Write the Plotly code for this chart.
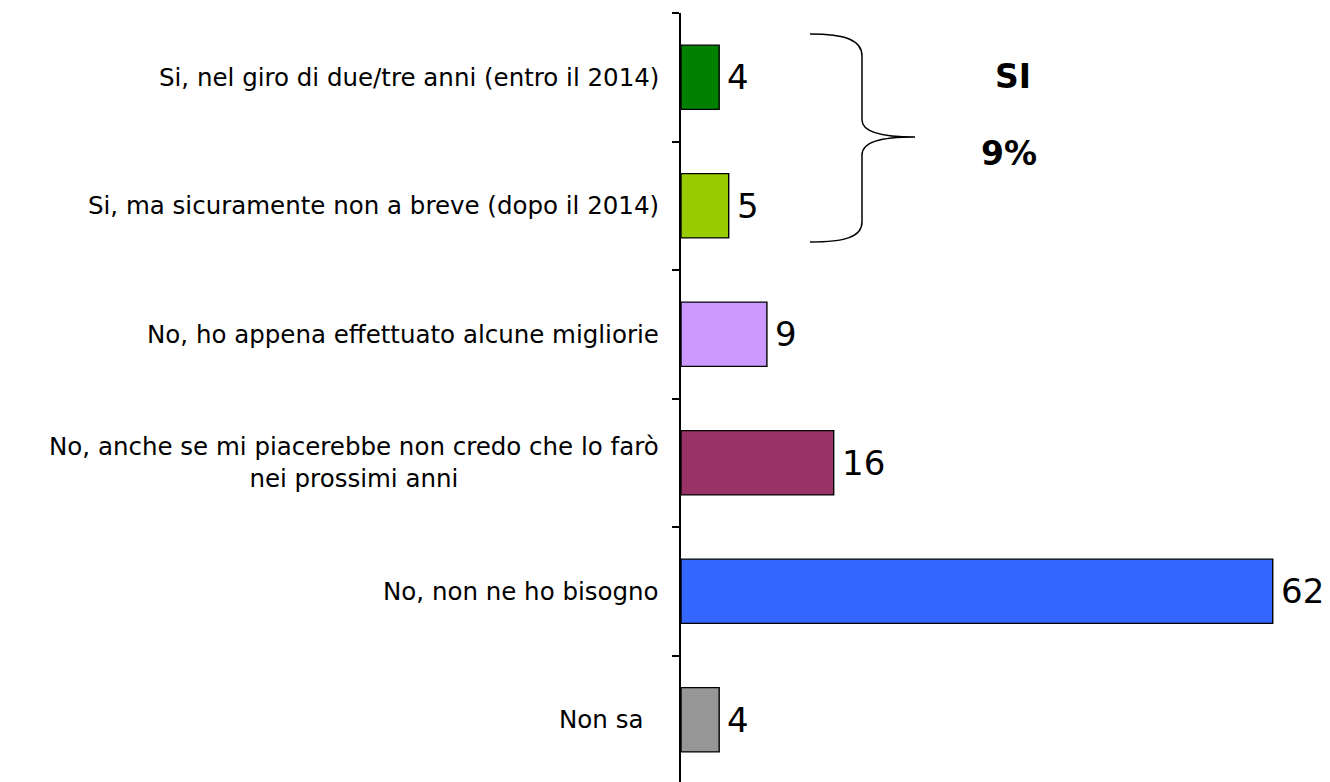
import plotly.graph_objects as go

# %% data
categories = [
    "Si, nel giro di due/tre anni (entro il 2014)",
    "Si, ma sicuramente non a breve (dopo il 2014)",
    "No, ho appena effettuato alcune migliorie",
    "No, anche se mi piacerebbe non credo che lo farò<br>nei prossimi anni",
    "No, non ne ho bisogno",
    "Non sa\u00a0\u00a0",
]
values = [4, 5, 9, 16, 62, 4]
bar_colors = ["#008000", "#99CC00", "#CC99FF", "#993366", "#3366FF", "#969696"]
group_label = "SI"
group_value = "9%"

# %% layout helpers
# page has an 8px body margin, so the figure is shifted by OFF
OFF = 8
W, H = 1330 - OFF, 782
PL, PT, PB, PR = 681, 13, 784, 1330   # plot area in page pixels


def px(x):
    return (x - PL) / (PR - PL)


def py(y):
    return (PB - y) / (PB - PT)


FONT = "DejaVu Sans, Verdana, sans-serif"

fig = go.Figure()
fig.add_trace(go.Bar(
    x=values, y=categories, orientation="h",
    marker=dict(color=bar_colors, line=dict(color="black", width=1.4)),
    hoverinfo="x+y",
))

# value labels
for c, v in zip(categories, values):
    fig.add_annotation(x=v, y=c, text=str(v), showarrow=False,
                       xanchor="left", yanchor="middle", xshift=6,
                       font=dict(family=FONT, size=34, color="black"))

# category labels (centred multi-line, right anchored)
for c in categories:
    fig.add_annotation(x=0, xref="paper", y=c, text=c, showarrow=False,
                       xanchor="right", yanchor="middle", xshift=-20, align="center",
                       font=dict(family=FONT, size=24.5, color="black"))

# brace for the "SI" group
brace = (f"M {px(810)} {py(34)} "
         f"C {px(845)} {py(34)}, {px(862)} {py(40)}, {px(862)} {py(56)} "
         f"L {px(862)} {py(120)} "
         f"C {px(862)} {py(132)}, {px(880)} {py(137)}, {px(915)} {py(137)} "
         f"C {px(880)} {py(137)}, {px(862)} {py(142)}, {px(862)} {py(155)} "
         f"L {px(862)} {py(222)} "
         f"C {px(862)} {py(237)}, {px(845)} {py(242)}, {px(810)} {py(242)}")
fig.add_shape(type="path", path=brace, xref="paper", yref="paper",
              line=dict(color="black", width=1.5))
fig.add_annotation(x=px(1013), y=py(76), xref="paper", yref="paper", text=f"<b>{group_label}</b>",
                   xanchor="center", yanchor="middle",
                   showarrow=False, font=dict(family=FONT, size=33, color="black"))
fig.add_annotation(x=px(1009), y=py(153), xref="paper", yref="paper", text=f"<b>{group_value}</b>",
                   xanchor="center", yanchor="middle",
                   showarrow=False, font=dict(family=FONT, size=33, color="black"))

fig.update_layout(
    width=W, height=H,
    margin=dict(l=PL - OFF, r=0, t=PT - OFF, b=H - (PB - OFF)),
    plot_bgcolor="white", paper_bgcolor="white",
    bargap=0.5, showlegend=False,
)
fig.update_xaxes(range=[0, 68], visible=False)
fig.update_yaxes(autorange="reversed", showline=True, linecolor="black", linewidth=2,
                 ticks="outside", tickson="boundaries", ticklen=7, tickwidth=1.5,
                 tickcolor="black", showticklabels=False, showgrid=False)

fig.write_html("out.html")
